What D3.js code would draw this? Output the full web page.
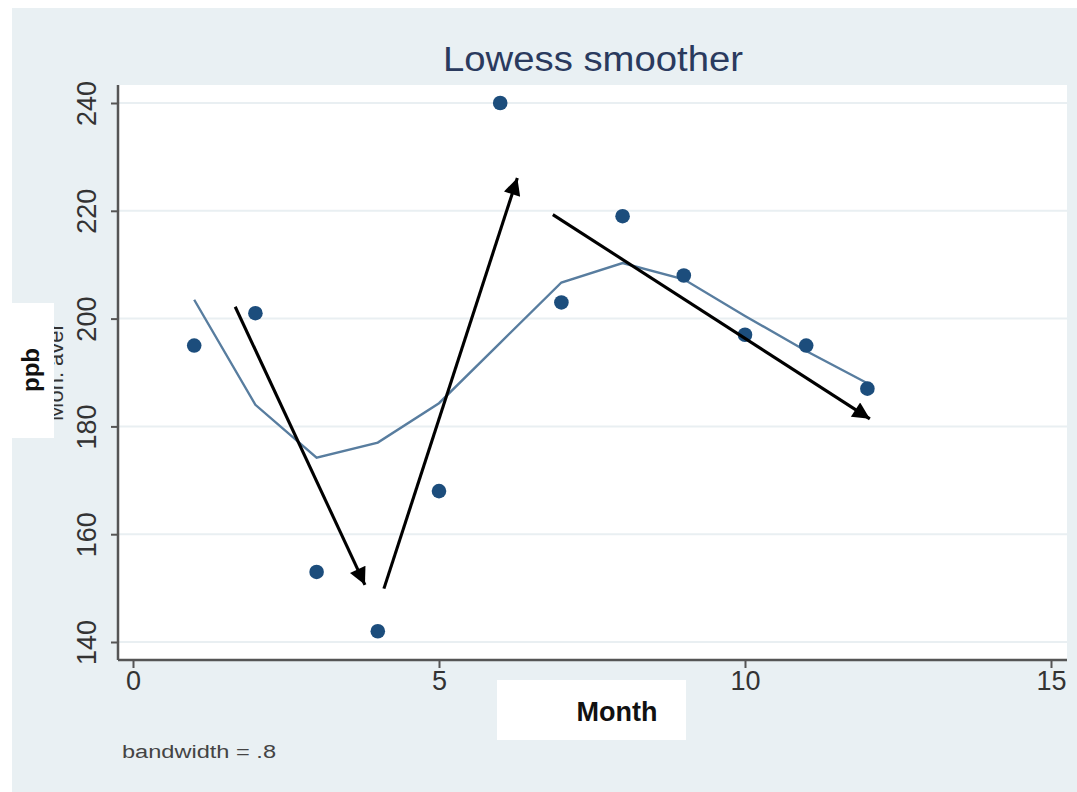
<!DOCTYPE html>
<html><head><meta charset="utf-8">
<script src="https://cdn.jsdelivr.net/npm/d3@7"></script>
<style>body{margin:0;background:#fff;} svg{display:block;font-family:"Liberation Sans",Arial,sans-serif;}</style>
</head><body>
<script>
const months = [1,2,3,4,5,6,7,8,9,10,11,12];
const ozone = [195,201,153,142,168,240,203,219,208,197,195,187];
const lowess = [203.5,184,174.2,177,184.3,195.5,206.7,210.3,207.3,200.5,194,188];
const xTicks = [0,5,10,15];
const yTicks = [140,160,180,200,220,240];
const arrowStarts = [[1.67,202.2],[4.1,149.9],[6.86,219.3]];
const arrowEnds = [[3.79,150.6],[6.28,226.1],[12.04,181.4]];
const titleText = "Lowess smoother";
const noteText = "bandwidth = .8";

const W=1077,H=792;
const svg=d3.select("body").append("svg").attr("width",W).attr("height",H);
svg.append("rect").attr("x",12).attr("y",8).attr("width",W-12).attr("height",H-8).attr("fill","#e9f0f3");

const x=d3.scaleLinear().domain([0,15]).range([133,1051]);
const y=d3.scaleLinear().domain([140,240]).range([642,103]);
const plotL=118, plotR=1067, plotT=85, plotB=660;

svg.append("rect").attr("x",plotL).attr("y",plotT).attr("width",plotR-plotL).attr("height",plotB-plotT).attr("fill","#fff");

// gridlines
svg.append("g").selectAll("line").data(yTicks).join("line")
  .attr("x1",plotL).attr("x2",plotR).attr("y1",d=>y(d)).attr("y2",d=>y(d))
  .attr("stroke","#e9eff2").attr("stroke-width",2);

// title
svg.append("text").attr("x",593).attr("y",71).attr("text-anchor","middle")
  .attr("font-size",35).attr("fill","#2a3a5e").attr("textLength",300).attr("lengthAdjust","spacingAndGlyphs").text(titleText);

// axes
const xAxis=d3.axisBottom(x).tickValues(xTicks).tickSize(8).tickPadding(8).tickFormat(d3.format("d"));
const gx=svg.append("g").attr("transform",`translate(0,${plotB})`).call(xAxis);
gx.select(".domain").remove();
gx.selectAll(".tick line").attr("stroke","#555").attr("stroke-width",2);
gx.selectAll(".tick text").attr("font-size",27).attr("fill","#333").attr("font-family","Liberation Sans, Arial, sans-serif").attr("dy","0.75em").attr("y",10);
svg.append("line").attr("x1",plotL).attr("x2",plotR).attr("y1",plotB).attr("y2",plotB).attr("stroke","#555").attr("stroke-width",2.5);

const yAxis=d3.axisLeft(y).tickValues(yTicks).tickSize(7).tickFormat(d3.format("d"));
const gy=svg.append("g").attr("transform",`translate(${plotL},0)`).call(yAxis);
gy.select(".domain").remove();
gy.selectAll(".tick line").attr("stroke","#555").attr("stroke-width",2);
gy.selectAll(".tick text").attr("font-size",27).attr("fill","#333").attr("font-family","Liberation Sans, Arial, sans-serif")
  .attr("x",null).attr("dy",null).attr("text-anchor","middle").attr("transform","translate(-22,0) rotate(-90)");
svg.append("line").attr("x1",plotL).attr("x2",plotL).attr("y1",plotT).attr("y2",plotB).attr("stroke","#555").attr("stroke-width",2.5);

// lowess line
svg.append("path").datum(months.map((m,i)=>[m,lowess[i]]))
  .attr("d",d3.line().x(d=>x(d[0])).y(d=>y(d[1])))
  .attr("fill","none").attr("stroke","#587d9f").attr("stroke-width",2.4);

// points
svg.append("g").selectAll("circle").data(months.map((m,i)=>[m,ozone[i]])).join("circle")
  .attr("cx",d=>x(d[0])).attr("cy",d=>y(d[1])).attr("r",7.3).attr("fill","#1c4d7c");

// arrows
svg.append("defs").append("marker").attr("id","ah").attr("viewBox","0 0 10 10").attr("refX",10).attr("refY",5)
  .attr("markerWidth",6.5).attr("markerHeight",5.5).attr("markerUnits","strokeWidth").attr("orient","auto")
  .append("path").attr("d","M0,0 L10,5 L0,10 z").attr("fill","#000");
svg.append("g").selectAll("line").data(arrowStarts.map((s,i)=>[s,arrowEnds[i]])).join("line")
  .attr("x1",d=>x(d[0][0])).attr("y1",d=>y(d[0][1])).attr("x2",d=>x(d[1][0])).attr("y2",d=>y(d[1][1]))
  .attr("stroke","#000").attr("stroke-width",3.1).attr("marker-end","url(#ah)");

// y label remnants
svg.append("text").attr("transform","translate(63,372) rotate(-90)").attr("text-anchor","middle")
  .attr("font-size",22).attr("fill","#333").text("Mon. aver");
svg.append("rect").attr("x",12).attr("y",303).attr("width",42).attr("height",135).attr("fill","#fff");
svg.append("text").attr("transform","translate(39,370) rotate(-90)").attr("text-anchor","middle")
  .attr("font-size",24).attr("font-weight","bold").attr("fill","#111").text("ppb");

// x label box
svg.append("rect").attr("x",497).attr("y",680).attr("width",189).attr("height",60).attr("fill","#fff");
svg.append("text").attr("x",617).attr("y",721).attr("text-anchor","middle").attr("font-size",27).attr("font-weight","bold").attr("fill","#111").text("Month");

// note
svg.append("text").attr("x",122).attr("y",758).attr("font-size",18).attr("fill","#444")
  .attr("textLength",154).attr("lengthAdjust","spacingAndGlyphs").text(noteText);
</script>
</body></html>
